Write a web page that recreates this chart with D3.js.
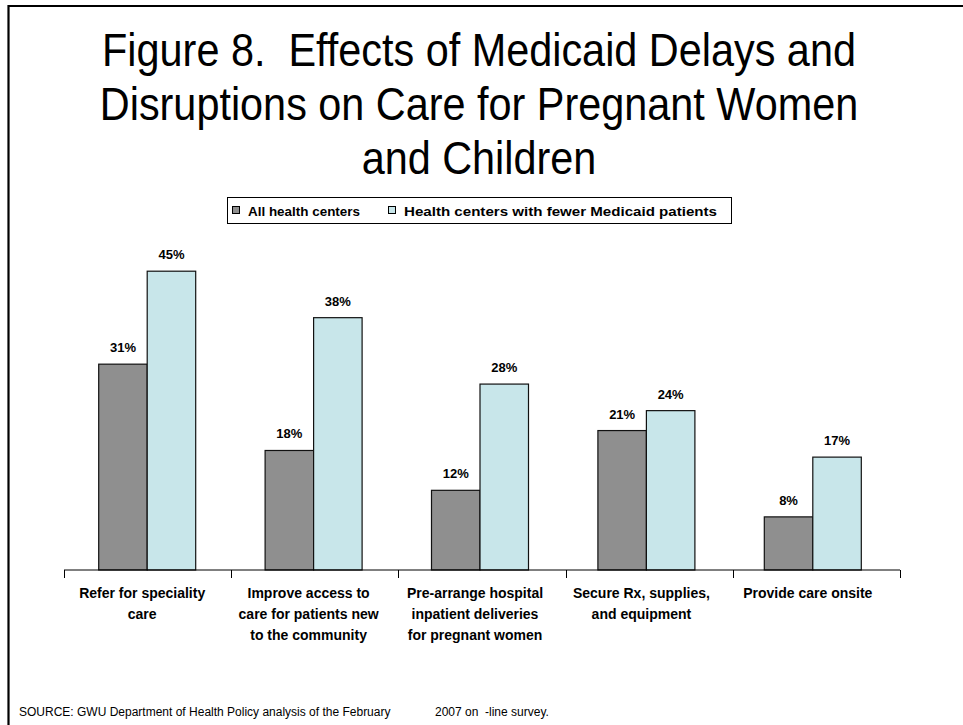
<!DOCTYPE html>
<html><head><meta charset="utf-8">
<script src="https://cdn.jsdelivr.net/npm/d3@7"></script>
<style>body{margin:0;background:#fff}svg{display:block;font-family:Arial,"Liberation Sans",sans-serif}</style>
</head><body><svg id="c" width="963" height="725"></svg>
<script>
const categories = [
  ["Refer for speciality","care"],
  ["Improve access to","care for patients new","to the community"],
  ["Pre-arrange hospital","inpatient deliveries","for pregnant women"],
  ["Secure Rx, supplies,","and equipment"],
  ["Provide care onsite"]
];
const seriesNames = ["All health centers","Health centers with fewer Medicaid patients"];
const allCenters = [31,18,12,21,8];
const fewerMedicaid = [45,38,28,24,17];
const colors = ["#8f8f8f","#c8e6ea"];
const titleLines = ["Figure 8.  Effects of Medicaid Delays and","Disruptions on Care for Pregnant Women","and Children"];

const svg = d3.select("#c");
// frame
svg.append("path").attr("d","M8.5,725 V6 H970").attr("fill","none").attr("stroke","#000").attr("stroke-width",2.2);

svg.append("g").selectAll("text").data(titleLines).join("text")
  .attr("transform",(d,i)=>`translate(479,${66+i*54}) scale(0.9,1)`).attr("text-anchor","middle")
  .attr("xml:space","preserve").style("white-space","pre")
  .attr("font-size",46).attr("fill","#000").text(d=>d);

const xAxisScale = d3.scaleBand().domain(d3.range(categories.length)).range([64,900]);
const x0 = d3.scaleBand().domain(d3.range(categories.length)).range([64,896]);
const x1 = d3.scaleBand().domain([0,1]).range([0,97]);
const y = d3.scaleLinear().domain([0,50]).range([570,238]);

const data = categories.map((c,i)=>({i, vals:[allCenters[i],fewerMedicaid[i]]}));
const g = svg.append("g");
const grp = g.selectAll("g").data(data).join("g")
  .attr("transform",d=>`translate(${x0(d.i)+x0.bandwidth()/2-48.5},0)`);
grp.selectAll("rect").data(d=>d.vals).join("rect")
  .attr("x",(v,j)=>x1(j)).attr("width",x1.bandwidth())
  .attr("y",v=>y(v)).attr("height",v=>y(0)-y(v))
  .attr("fill",(v,j)=>colors[j]).attr("stroke","#111").attr("stroke-width",1.2);
grp.selectAll("text").data(d=>d.vals).join("text")
  .attr("x",(v,j)=>x1(j)+x1.bandwidth()/2).attr("y",v=>y(v)-12)
  .attr("text-anchor","middle").attr("font-size",13).attr("font-weight","bold").text(v=>v+"%");

// axis
const axis = d3.axisBottom(xAxisScale).tickSize(0).tickFormat("");
const ag = svg.append("g").attr("transform","translate(0,570)").call(axis);
ag.select(".domain").attr("stroke","#000").attr("stroke-width",1).attr("d","M64,0H900");
ag.selectAll(".tick").remove();
svg.append("g").selectAll("line").data(d3.range(categories.length+1)).join("line")
  .attr("x1",i=>Math.round(64+i*xAxisScale.step())+0.5).attr("x2",i=>Math.round(64+i*xAxisScale.step())+0.5)
  .attr("y1",570).attr("y2",578).attr("stroke","#000");

const lab = svg.append("g").selectAll("text").data(categories).join("text")
  .attr("text-anchor","middle").attr("font-size",14).attr("font-weight","bold");
lab.each(function(lines,i){
  d3.select(this).selectAll("tspan").data(lines).join("tspan")
    .attr("x",x0(i)+x0.bandwidth()/2-5).attr("y",(d,k)=>598+k*21).text(d=>d);
});

// legend
const lg = svg.append("g");
lg.append("rect").attr("x",227.5).attr("y",197.5).attr("width",504).attr("height",26).attr("fill","#fff").attr("stroke","#000");
const legX = [232,388];
const legW = [112,313];
seriesNames.forEach((n,j)=>{
  lg.append("rect").attr("x",legX[j]+0.5).attr("y",206.5).attr("width",7).attr("height",7).attr("fill",colors[j]).attr("stroke","#000");
  lg.append("text").attr("x",legX[j]+16).attr("y",215.5).attr("font-size",13).attr("font-weight","bold")
    .attr("textLength",legW[j]).attr("lengthAdjust","spacingAndGlyphs").text(n);
});

// source
const src = svg.append("text").attr("y",716).attr("font-size",12).attr("fill","#000");
src.append("tspan").attr("x",19).text("SOURCE: GWU Department of Health Policy analysis of the February");
src.append("tspan").attr("x",435).text("2007 on  -line survey.").attr("xml:space","preserve").style("white-space","pre");
</script></body></html>
